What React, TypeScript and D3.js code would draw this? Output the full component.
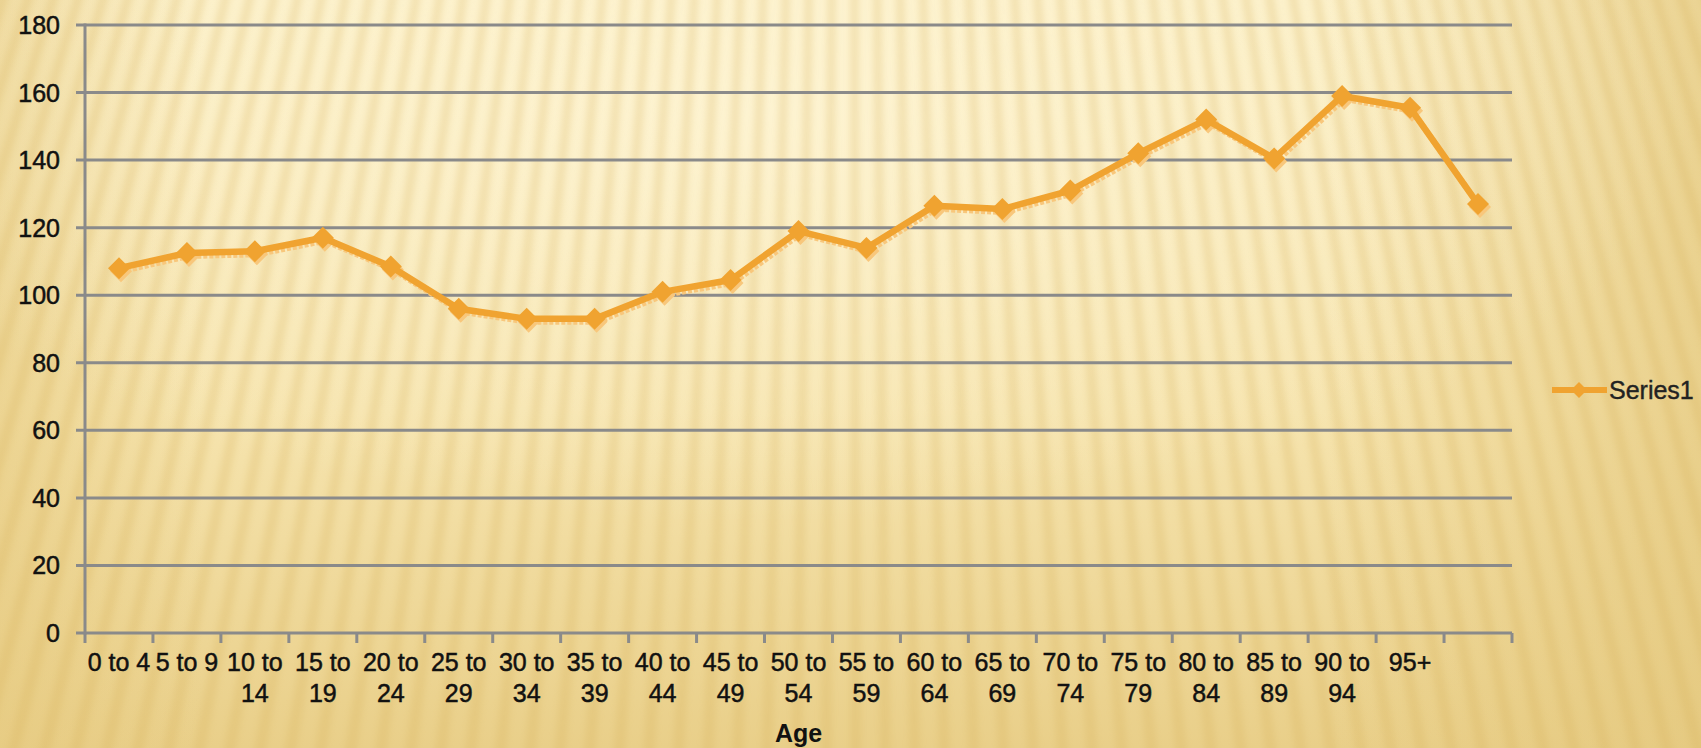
import { useMemo } from 'react';
import * as d3 from 'd3';

const ageGroups = [
  '0 to 4', '5 to 9', '10 to 14', '15 to 19', '20 to 24', '25 to 29', '30 to 34',
  '35 to 39', '40 to 44', '45 to 49', '50 to 54', '55 to 59', '60 to 64', '65 to 69',
  '70 to 74', '75 to 79', '80 to 84', '85 to 89', '90 to 94', '95+', '',
];
const series1 = [
  108, 112.5, 113, 117, 108.5, 96, 93, 93, 101, 104.5, 119, 114,
  126.5, 125.5, 131, 142, 152, 140.5, 159, 155.5, 127,
];
const yTicks = [0, 20, 40, 60, 80, 100, 120, 140, 160, 180];
const seriesName = 'Series1';
const axisTitle = 'Age';

const W = 1701;
const H = 748;
const margin = { top: 25, right: 190, bottom: 115, left: 85 };
const FONT = '"Liberation Sans", Arial, sans-serif';
const LINE = '#f0a330';

// split a label onto two lines when it is wider than its band
function wrap(label: string, maxWidth: number): string[] {
  const ctx = document.createElement('canvas').getContext('2d');
  if (!ctx) return [label];
  ctx.font = `25px ${FONT}`;
  if (ctx.measureText(label).width <= maxWidth) return [label];
  const words = label.split(' ');
  const last = words.pop() ?? '';
  return [words.join(' '), last];
}

export default function App() {
  const x = d3.scaleBand<number>()
    .domain(d3.range(ageGroups.length))
    .range([margin.left, W - margin.right + 1])
    .padding(0);
  const y = d3.scaleLinear().domain([0, 180]).range([H - margin.bottom, margin.top]);
  const cx = (i: number) => (x(i) ?? 0) + x.bandwidth() / 2;
  const line = d3.line<number>().x((_, i) => cx(i)).y((v) => y(v));
  const bottom = y(0);
  const right = W - margin.right + 1;

  // fan of soft stripes in the slide background
  const rays = useMemo(() => {
    const ox = 850, oy = -2600;
    return d3.range(-70, 71).map((k) => {
      const a0 = k * 0.0088;
      const a1 = a0 + 0.0034;
      const len = 4200;
      return `M${ox},${oy}L${ox + Math.sin(a0) * len},${oy + Math.cos(a0) * len}L${ox + Math.sin(a1) * len},${oy + Math.cos(a1) * len}Z`;
    });
  }, []);

  const diamond = (s: number) => `M0,${-s}L${s},0L0,${s}L${-s},0Z`;

  return (
    <svg width={W} height={H} style={{ position: 'absolute', left: 0, top: 0, display: 'block' }} fontFamily={FONT}>
      <defs>
        <linearGradient id="bg" x1="0" y1="0" x2="0" y2="1">
          <stop offset="0" stopColor="#fbefc6" />
          <stop offset="0.55" stopColor="#f6e4ae" />
          <stop offset="1" stopColor="#e9cf89" />
        </linearGradient>
        <linearGradient id="side" x1="0" y1="0" x2="1" y2="0">
          <stop offset="0" stopColor="#e6ca80" stopOpacity="0.6" />
          <stop offset="0.12" stopColor="#e6ca80" stopOpacity="0" />
          <stop offset="0.78" stopColor="#e6ca80" stopOpacity="0" />
          <stop offset="1" stopColor="#e4c87e" stopOpacity="0.7" />
        </linearGradient>
        <radialGradient id="glow" cx="0.45" cy="0.15" r="0.55">
          <stop offset="0" stopColor="#fff6d8" stopOpacity="0.7" />
          <stop offset="1" stopColor="#fff6d8" stopOpacity="0" />
        </radialGradient>
        <filter id="soft" x="-5%" y="-5%" width="110%" height="110%">
          <feGaussianBlur stdDeviation="3" />
        </filter>
      </defs>

      <rect width={W} height={H} fill="url(#bg)" />
      <rect width={W} height={H} fill="url(#side)" />
      <rect width={W} height={H} fill="url(#glow)" />
      <g filter="url(#soft)" fill="#d6b05a" opacity={0.24}>
        {rays.map((d, i) => <path key={i} d={d} />)}
      </g>

      {/* gridlines + y labels */}
      {yTicks.map((t) => (
        <g key={t}>
          <line x1={margin.left - 9} x2={right} y1={y(t)} y2={y(t)} stroke="#8a8a8a" strokeWidth={3} />
          <text x={60} y={y(t)} textAnchor="end" dominantBaseline="central" fontSize={25} fill="#111" stroke="#111" strokeWidth={0.5}>{t}</text>
        </g>
      ))}

      {/* axes */}
      <line x1={margin.left} x2={margin.left} y1={margin.top - 1.5} y2={bottom + 1.5} stroke="#8a8a8a" strokeWidth={3} />
      {d3.range(ageGroups.length + 1).map((i) => {
        const tx = i < ageGroups.length ? (x(i) ?? 0) : right;
        return <line key={i} x1={tx} x2={tx} y1={bottom} y2={bottom + 10} stroke="#8a8a8a" strokeWidth={3} />;
      })}

      {/* x labels */}
      {ageGroups.map((label, i) => {
        if (!label) return null;
        const lines = wrap(label, x.bandwidth() - 2);
        return (
          <text key={i} x={cx(i)} textAnchor="middle" fontSize={25} fill="#111" stroke="#111" strokeWidth={0.5}>
            {lines.map((l, j) => (
              <tspan key={j} x={cx(i)} y={bottom + 38 + j * 31}>{l}</tspan>
            ))}
          </text>
        );
      })}
      <text x={(margin.left + right) / 2} y={742} textAnchor="middle" fontSize={25} fontWeight="bold" fill="#111">{axisTitle}</text>

      {/* series with a light offset shadow */}
      <path d={line(series1) ?? undefined} transform="translate(2,3)" fill="none" stroke="#f8c77c" strokeWidth={6} strokeDasharray="4 2" strokeLinejoin="round" />
      {series1.map((v, i) => (
        <path key={`s${i}`} d={diamond(11)} transform={`translate(${cx(i) + 2},${y(v) + 3})`} fill="#f8c77c" />
      ))}
      <path d={line(series1) ?? undefined} fill="none" stroke={LINE} strokeWidth={6.5} strokeLinejoin="round" />
      {series1.map((v, i) => (
        <path key={i} d={diamond(11)} transform={`translate(${cx(i)},${y(v)})`} fill={LINE} />
      ))}

      {/* legend */}
      <line x1={1552} x2={1607} y1={390} y2={390} stroke={LINE} strokeWidth={6} />
      <path d={diamond(8)} transform="translate(1579,390)" fill={LINE} />
      <text x={1609} y={390} dominantBaseline="central" fontSize={25} fill="#222" stroke="#222" strokeWidth={0.4}>{seriesName}</text>
    </svg>
  );
}
